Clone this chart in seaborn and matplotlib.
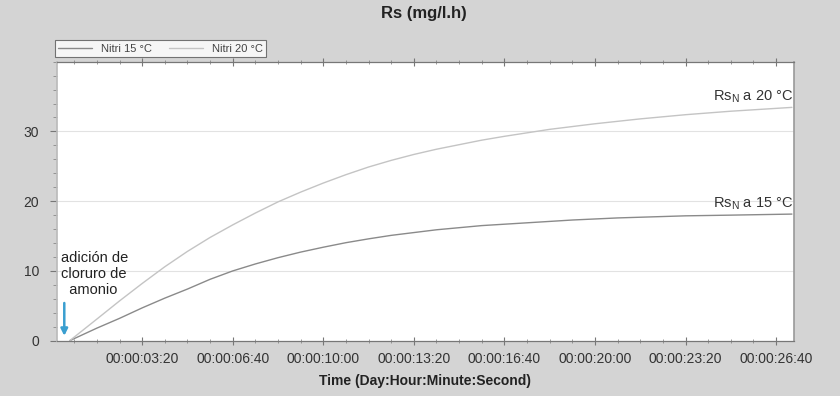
import matplotlib
matplotlib.use("Agg")
import matplotlib.pyplot as plt
import matplotlib.ticker as mticker
import seaborn as sns
import pandas as pd

# Datos (tiempo en segundos)
tiempo = [40, 100, 150, 200, 250, 300, 350, 400, 450, 500, 550, 600, 650,
          700, 750, 800, 850, 900, 950, 1000, 1050, 1100, 1150, 1200, 1250,
          1300, 1400, 1500, 1635]
nitri_15 = [0, 1.8, 3.2, 4.7, 6.1, 7.4, 8.8, 10.0, 11.0, 11.9, 12.7, 13.4, 14.05,
            14.6, 15.1, 15.5, 15.9, 16.2, 16.5, 16.7, 16.9, 17.1, 17.3, 17.45, 17.6,
            17.7, 17.9, 18.0, 18.15]
nitri_20 = [0, 3.1, 5.7, 8.2, 10.6, 12.8, 14.8, 16.6, 18.3, 19.9, 21.3, 22.6, 23.8,
            24.9, 25.85, 26.7, 27.45, 28.1, 28.75, 29.3, 29.8, 30.3, 30.7, 31.1, 31.45,
            31.8, 32.4, 32.9, 33.45]
x_ticks = [200, 400, 600, 800, 1000, 1200, 1400, 1600]
y_ticks = [0, 10, 20, 30]

df = pd.DataFrame({"t": tiempo, "n15": nitri_15, "n20": nitri_20})

sns.set_theme(style="white")
plt.rcParams['font.family'] = ['Liberation Sans', 'DejaVu Sans']

fig = plt.figure(figsize=(8.4, 3.96), dpi=100, facecolor='#d4d4d4')
ax = fig.add_axes([0.0679, 0.1397, 0.877, 0.7045])
ax.set_facecolor('white')

sns.lineplot(data=df, x="t", y="n15", color='#8a8a8a', linewidth=1.0, label='Nitri 15 °C', ax=ax)
sns.lineplot(data=df, x="t", y="n20", color='#c4c4c4', linewidth=1.0, label='Nitri 20 °C', ax=ax)

ax.set_xlim(12, 1639)
ax.set_ylim(0, 40)
ax.set_xticks(x_ticks)
ax.set_yticks(y_ticks)
ax.xaxis.set_minor_locator(mticker.MultipleLocator(50))
ax.yaxis.set_minor_locator(mticker.MultipleLocator(2))


def fmt_time(v, pos):
    v = int(round(v))
    return f"00:00:{v // 60:02d}:{v % 60:02d}"


ax.xaxis.set_major_formatter(mticker.FuncFormatter(fmt_time))

# Rejilla horizontal suave
ax.yaxis.grid(True, color='#e2e2e2', linewidth=0.8)
ax.xaxis.grid(False)

for side in ['top', 'bottom']:
    ax.spines[side].set_color('#777777')
    ax.spines[side].set_linewidth(0.9)
ax.spines['left'].set_color('#bbbbbb')
ax.spines['right'].set_color('#999999')
ax.spines['right'].set_linewidth(1.2)

ax.tick_params(axis='x', which='major', direction='inout', length=6, width=0.8,
               color='#777777', labelsize=10, labelcolor='#333333', pad=5,
               top=True, bottom=True)
ax.tick_params(axis='x', which='minor', direction='inout', length=3, width=0.6,
               color='#888888', top=True, bottom=True)
ax.tick_params(axis='y', which='major', direction='out', length=5, width=0.8,
               color='#777777', labelsize=10, labelcolor='#333333', pad=8, left=True)
ax.tick_params(axis='y', which='minor', direction='out', length=3, width=0.6,
               color='#888888', left=True)

ax.set_xlabel('Time (Day:Hour:Minute:Second)', fontsize=10, fontweight='bold',
              color='#222222', labelpad=6)
ax.set_ylabel('')
fig.suptitle('Rs (mg/l.h)', x=0.505, y=0.985, fontsize=12, fontweight='bold', color='#222222')

leg = ax.legend(loc='lower left', bbox_to_anchor=(0.0655, 0.856),
                bbox_transform=fig.transFigure, ncol=2, fontsize=8,
                frameon=True, fancybox=False, borderpad=0.3, handlelength=3.0,
                columnspacing=1.6, handletextpad=0.8, borderaxespad=0)
leg.get_frame().set_edgecolor('#555555')
leg.get_frame().set_linewidth(0.8)
for txt in leg.get_texts():
    txt.set_color('#444444')

# Anotaciones
ax.text(1638, 33.8, r'Rs$_\mathregular{N}$ a 20 °C', ha='right', va='bottom',
        fontsize=10.5, color='#333333')
ax.text(1638, 18.4, r'Rs$_\mathregular{N}$ a 15 °C', ha='right', va='bottom',
        fontsize=10.5, color='#333333')
ax.text(21, 6.3, 'adición de\ncloruro de\n  amonio', ha='left', va='bottom',
        fontsize=10.5, color='#222222', linespacing=1.15)
ax.annotate('', xy=(28, 0.3), xytext=(28, 5.8),
            arrowprops=dict(arrowstyle='-|>', color='#3a9fd0', lw=1.8, mutation_scale=10))

fig.savefig('out.png', dpi=100, facecolor=fig.get_facecolor())
